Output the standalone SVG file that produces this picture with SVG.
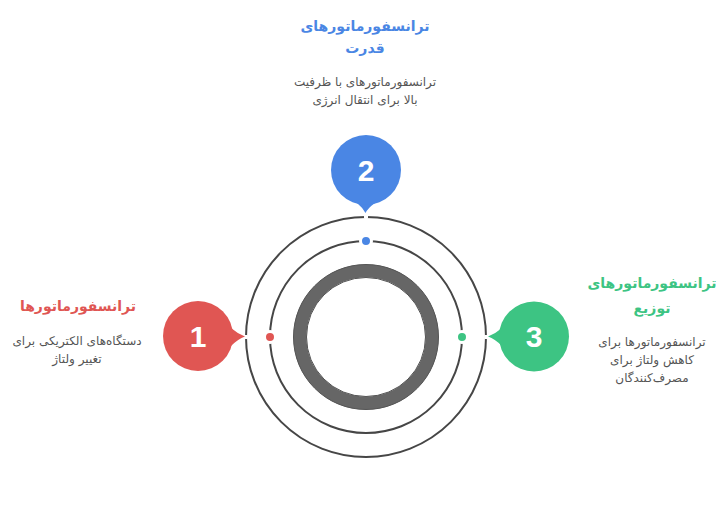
<svg xmlns="http://www.w3.org/2000/svg" width="724" height="511" viewBox="0 0 724 511">
<style>
.ring{fill:none;stroke:#464646;stroke-width:2}
.title{font-family:"DejaVu Sans",sans-serif;font-weight:bold;font-size:14px;text-anchor:middle}
.desc{font-family:"DejaVu Sans",sans-serif;font-size:12px;fill:#555;text-anchor:middle}
.num{font-family:"Liberation Sans",Arial,sans-serif;font-weight:bold;font-size:30px;fill:#fff;text-anchor:middle}
.dot{stroke:#fff;stroke-width:3}
</style>
<rect width="724" height="511" fill="#fff"/>
<g id="connectors">
<circle class="ring" cx="366" cy="337" r="120"/>
<circle class="ring" cx="366" cy="337" r="96"/>
<circle cx="366" cy="337" r="66" fill="none" stroke="#666" stroke-width="13"/>
<circle cx="366" cy="337" r="72.5" fill="none" stroke="#555" stroke-width="1"/>
<circle cx="366" cy="337" r="59.5" fill="none" stroke="#555" stroke-width="1"/>
<line x1="246" y1="335" x2="246" y2="339" stroke="#fff" stroke-width="3"/>
<line x1="486" y1="335" x2="486" y2="339" stroke="#fff" stroke-width="3"/>
<line x1="364" y1="217" x2="368" y2="217" stroke="#fff" stroke-width="3"/>
</g>
<g id="node1">
<circle class="dot" cx="270" cy="337" r="5.5" fill="#E05653"/>
<path d="M231 328 Q238 334 245 336.5 Q238 339 231 346 Z" fill="#E05653"/>
<circle cx="198" cy="336" r="35" fill="#E05653"/>
<text class="num" x="198" y="347">1</text>
<text class="title" x="78" y="311" fill="#E05653">ترانسفورماتورها</text>
<text class="desc" x="77" y="345">دستگاه‌های الکتریکی برای</text>
<text class="desc" x="77" y="363">تغییر ولتاژ</text>
</g>
<g id="node2">
<circle class="dot" cx="366" cy="241" r="5.5" fill="#4A86E4"/>
<path d="M357 203 Q363 208 365.5 213 Q368 208 375 203 Z" fill="#4A86E4"/>
<circle cx="366" cy="170" r="35" fill="#4A86E4"/>
<text class="num" x="366" y="181">2</text>
<text class="title" x="365" y="31" fill="#4A86E4">ترانسفورماتورهای</text>
<text class="title" x="365" y="53" fill="#4A86E4">قدرت</text>
<text class="desc" x="365" y="86">ترانسفورماتورهای با ظرفیت</text>
<text class="desc" x="365" y="104">بالا برای انتقال انرژی</text>
</g>
<g id="node3">
<circle class="dot" cx="462" cy="337" r="5.5" fill="#3DC483"/>
<path d="M502 328 Q495 334 488 336.5 Q495 339 502 346 Z" fill="#3DC483"/>
<circle cx="534" cy="336.5" r="35" fill="#3DC483"/>
<text class="num" x="534" y="347">3</text>
<text class="title" x="652" y="288" fill="#3DC483">ترانسفورماتورهای</text>
<text class="title" x="652" y="313" fill="#3DC483">توزیع</text>
<text class="desc" x="652" y="346">ترانسفورماتورها برای</text>
<text class="desc" x="652" y="364">کاهش ولتاژ برای</text>
<text class="desc" x="652" y="382">مصرف‌کنندگان</text>
</g>
</svg>
